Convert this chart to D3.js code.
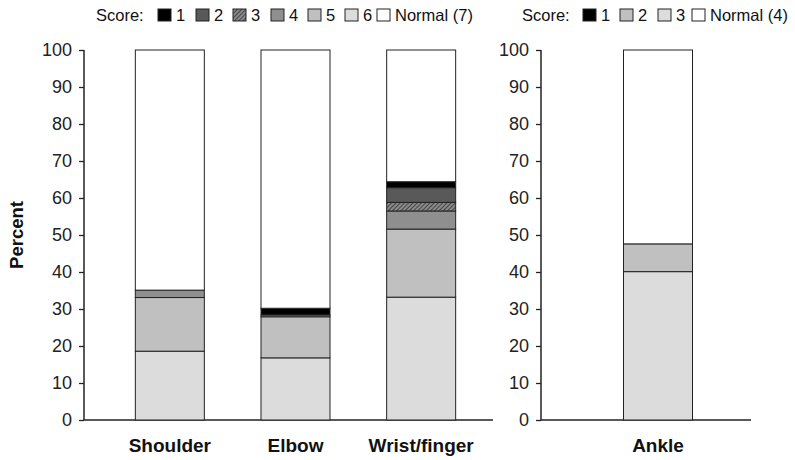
<!DOCTYPE html>
<html><head><meta charset="utf-8">
<script src="https://cdn.jsdelivr.net/npm/d3@7"></script>
<style>body{margin:0;background:#fff}svg{font-family:"Liberation Sans",Arial,sans-serif}</style>
</head><body><svg id="c" width="795" height="460"></svg>
<script>
const upperCats = ["Shoulder","Elbow","Wrist/finger"];
const upperKeys = ["6","5","4","3","2","1","Normal (7)"];
const upperVals = {
  "Shoulder":     [18.6, 14.5, 2.0, 0, 0, 0],
  "Elbow":        [16.8, 11.1, 0.5, 0, 0, 1.8],
  "Wrist/finger": [33.2, 18.4, 4.9, 2.3, 4.0, 1.6]
};
const lowerCats = ["Ankle"];
const lowerKeys = ["3","2","1","Normal (4)"];
const lowerVals = { "Ankle": [40.1, 7.5, 0] };
const yTicks = [0,10,20,30,40,50,60,70,80,90,100];
const upperLegend = ["1","2","3","4","5","6","Normal (7)"];
const lowerLegend = ["1","2","3","Normal (4)"];

const upperFill = {"1":"#000","2":"#595959","3":"url(#hatch)","4":"#8f8f8f","5":"#c0c0c0","6":"#dcdcdc","Normal (7)":"#fff"};
const lowerFill = {"1":"#000","2":"#c0c0c0","3":"#dcdcdc","Normal (4)":"#fff"};

const svg = d3.select("#c");
const defs = svg.append("defs");
const p = defs.append("pattern").attr("id","hatch").attr("patternUnits","userSpaceOnUse").attr("width",3).attr("height",3).attr("patternTransform","rotate(45)");
p.append("rect").attr("width",3).attr("height",3).attr("fill","#8a8a8a");
p.append("line").attr("x1",0).attr("y1",0).attr("x2",0).attr("y2",3).attr("stroke","#333").attr("stroke-width",1.6);

const y = d3.scaleLinear().domain([0,100]).range([420,50]);
const FF = "Liberation Sans, Arial, sans-serif";

function panel(axisX, axisEnd, bandRange, cats, keys, vals, fills, legend, legendPos){
  const x = d3.scaleBand().domain(cats).range(bandRange).paddingInner(0).paddingOuter(0);
  const g = svg.append("g");
  const ax = g.append("g").attr("transform",`translate(${axisX},0)`)
    .call(d3.axisLeft(y).tickValues(yTicks).tickSize(5).tickPadding(7));
  ax.attr("font-family",FF);
  ax.select(".domain").attr("stroke","#222").attr("stroke-width",1.5).attr("d",`M0,420V50`);
  ax.selectAll(".tick line").attr("stroke","#222").attr("stroke-width",1.3);
  ax.selectAll(".tick text").attr("font-size",18).attr("fill","#222").attr("font-family",FF);
  g.append("line").attr("x1",axisX).attr("x2",axisEnd).attr("y1",y(0)).attr("y2",y(0)).attr("stroke","#222").attr("stroke-width",1.5);
  const bw = 69;
  cats.forEach(c=>{
    const cx = x(c)+x.bandwidth()/2;
    let acc = 0;
    const arr = vals[c];
    keys.forEach((k,i)=>{
      const v = i < arr.length ? arr[i] : 100-acc;
      if(v<=0) return;
      g.append("rect").attr("x",cx-bw/2).attr("width",bw)
        .attr("y",y(acc+v)).attr("height",y(acc)-y(acc+v))
        .attr("fill",fills[k]).attr("stroke","#222").attr("stroke-width",1);
      acc += v;
    });
    g.append("text").attr("x",cx).attr("y",452).attr("text-anchor","middle")
      .attr("font-size",19).attr("font-weight","bold").attr("fill","#111").text(c);
  });
  g.append("text").attr("x",legendPos.score).attr("y",21).attr("font-size",16.5).attr("fill","#111").text("Score:");
  legend.forEach((k,i)=>{
    const lx = legendPos.sq[i];
    g.append("rect").attr("x",lx).attr("y",9).attr("width",13).attr("height",12)
      .attr("fill",fills[k]).attr("stroke","#222").attr("stroke-width",1);
    g.append("text").attr("x",lx+18).attr("y",21).attr("font-size",16.5).attr("fill","#111").text(k);
  });
}

panel(84, 493, [107, 484], upperCats, upperKeys, upperVals, upperFill, upperLegend,
  {score:96, sq:[158,196,233,271,308,345,377]});
panel(541, 751, [558, 758], lowerCats, lowerKeys, lowerVals, lowerFill, lowerLegend,
  {score:522, sq:[583,620,658,692]});

svg.append("text").attr("transform","translate(23,235) rotate(-90)").attr("text-anchor","middle")
  .attr("font-size",18.5).attr("font-weight","bold").attr("fill","#111").text("Percent");
</script></body></html>
